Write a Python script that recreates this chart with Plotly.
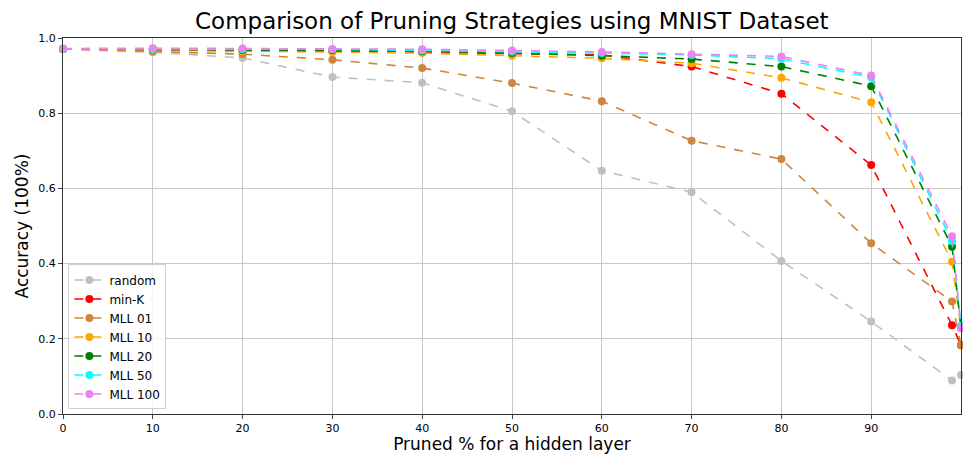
import plotly.graph_objects as go

x_vals = [0, 10, 20, 30, 40, 50, 60, 70, 80, 90, 99, 100]

random_acc = [0.971, 0.962, 0.947, 0.896, 0.881, 0.805, 0.647, 0.590, 0.407, 0.246, 0.089, 0.104]
mink_acc = [0.971, 0.968, 0.966, 0.965, 0.962, 0.958, 0.955, 0.924, 0.852, 0.662, 0.236, 0.183]
mll01_acc = [0.971, 0.964, 0.957, 0.942, 0.920, 0.880, 0.832, 0.727, 0.678, 0.454, 0.299, 0.183]
mll10_acc = [0.971, 0.968, 0.965, 0.963, 0.960, 0.953, 0.946, 0.933, 0.894, 0.829, 0.405, 0.228]
mll20_acc = [0.971, 0.970, 0.968, 0.968, 0.965, 0.960, 0.953, 0.944, 0.924, 0.872, 0.445, 0.230]
mll50_acc = [0.971, 0.971, 0.970, 0.970, 0.967, 0.964, 0.960, 0.955, 0.945, 0.895, 0.460, 0.234]
mll100_acc = [0.972, 0.973, 0.972, 0.971, 0.970, 0.967, 0.963, 0.957, 0.951, 0.900, 0.473, 0.229]

series_names = ["random", "min-K", "MLL 01", "MLL 10", "MLL 20", "MLL 50", "MLL 100"]
series_values = [random_acc, mink_acc, mll01_acc, mll10_acc, mll20_acc, mll50_acc, mll100_acc]
series_colors = ["#c0c0c0", "#ff0000", "#cd853f", "#ffa500", "#008000", "#00ffff", "#ee82ee"]

x_tick_vals = [0, 10, 20, 30, 40, 50, 60, 70, 80, 90]
y_tick_vals = [0.0, 0.2, 0.4, 0.6, 0.8, 1.0]

fig = go.Figure()
for name, vals, col in zip(series_names, series_values, series_colors):
    fig.add_trace(go.Scatter(
        x=x_vals, y=vals, name=name, mode="lines+markers",
        line=dict(color=col, width=1.6, dash="dash"),
        marker=dict(color=col, size=8),
        cliponaxis=False,
    ))

font_family = "DejaVu Sans"
fig.update_layout(
    width=963, height=454,
    margin=dict(l=63, r=2, t=38, b=40),
    paper_bgcolor="white", plot_bgcolor="white",
    font=dict(family=font_family, color="black"),
    title=dict(text="Comparison of Pruning Strategies using MNIST Dataset",
               x=0.5315, xanchor="center", y=0.953, yanchor="middle",
               font=dict(size=23, family=font_family, color="black")),
    xaxis=dict(range=[0, 100], tickvals=x_tick_vals, ticks="outside", ticklen=4,
               tickfont=dict(size=11), showgrid=True, gridcolor="#c8c8c8", gridwidth=1,
               showline=True, linecolor="#333333", linewidth=1.2, mirror=True, zeroline=False,
               title=dict(text="Pruned % for a hidden layer", font=dict(size=17), standoff=4)),
    yaxis=dict(range=[0, 1.0], tickvals=y_tick_vals, tickformat=".1f", ticks="outside", ticklen=4,
               tickfont=dict(size=11), showgrid=True, gridcolor="#c8c8c8", gridwidth=1,
               showline=True, linecolor="#333333", linewidth=1.2, mirror=True, zeroline=False,
               title=dict(text="Accuracy (100%)", font=dict(size=17), standoff=5)),
    legend=dict(x=0.006, y=0.012, xanchor="left", yanchor="bottom",
                bgcolor="rgba(255,255,255,0.8)", bordercolor="#d0d0d0", borderwidth=1,
                font=dict(size=12), itemwidth=30, tracegroupgap=0),
    showlegend=True,
)

fig.write_html("out.html")
